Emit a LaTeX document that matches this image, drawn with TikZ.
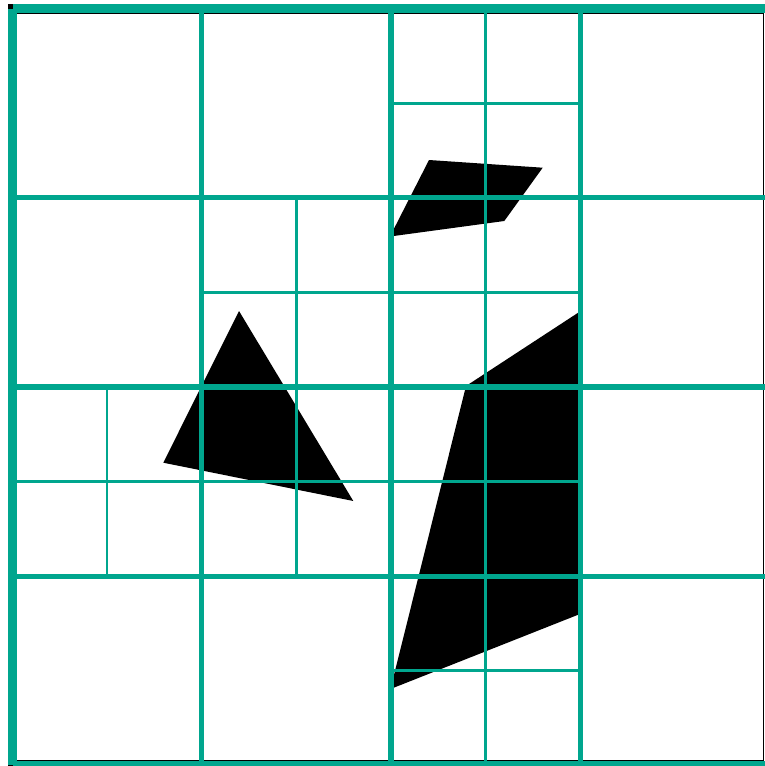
\documentclass[tikz,border=0pt]{standalone}
\definecolor{gridteal}{RGB}{0,166,142}
\tikzset{
  frameline/.style={draw=gridteal, line width=8.5pt, line cap=butt},
  depthone/.style={draw=gridteal, line width=6.5pt, line cap=butt},
  depthtwo/.style={draw=gridteal, line width=5pt, line cap=butt},
  depththree/.style={draw=gridteal, line width=2.6pt, line cap=butt},
  obstacle/.style={fill=black, draw=none}
}
\begin{document}
\begin{tikzpicture}[x=1pt,y=-1pt]
\useasboundingbox (0,0) rectangle (765,766);
% background frame
\fill[black] (7.6,3.8) rectangle (764,770);
\fill[white] (17.2,13.6) rectangle (763,760.2);
% obstacles
\path[obstacle] (429,160) -- (542.7,167.7) -- (504.3,221) -- (390,236.5) -- cycle;
\path[obstacle] (239,311) -- (353.3,501) -- (163.3,462.7) -- cycle;
\path[obstacle] (580,311.5) -- (466,386) -- (390.5,689) -- (580,614) -- cycle;
% depth 3 lines
\draw[depththree] (107.1,386.9) -- (107.1,576);
\draw[depththree] (296.4,197.8) -- (296.4,576);
\draw[depththree] (485.6,8.7) -- (485.6,765.1);
\draw[depththree] (391,103.25) -- (580.25,103.25);
\draw[depththree] (201.75,292.35) -- (580.25,292.35);
\draw[depththree] (12.5,481.45) -- (580.25,481.45);
\draw[depththree] (391,670.55) -- (580.25,670.55);
% depth 2 lines
\draw[depthtwo] (201.75,8.7) -- (201.75,765.1);
\draw[depthtwo] (580.25,8.7) -- (580.25,765.1);
\draw[depthtwo] (12.5,197.8) -- (769.5,197.8);
\draw[depthtwo] (12.5,576) -- (769.5,576);
% depth 1 lines
\draw[depthone] (391,8.7) -- (391,765.1);
\draw[depthone] (12.5,386.9) -- (769.5,386.9);
% outer frame (separate segments)
\draw[frameline] (12.5,8.7) -- (769.5,8.7);
\draw[frameline] (12.5,8.7) -- (12.5,765.1);
\draw[frameline] (12.5,765.1) -- (769.5,765.1);
\draw[frameline] (769.5,8.7) -- (769.5,765.1);
\end{tikzpicture}
\end{document}
